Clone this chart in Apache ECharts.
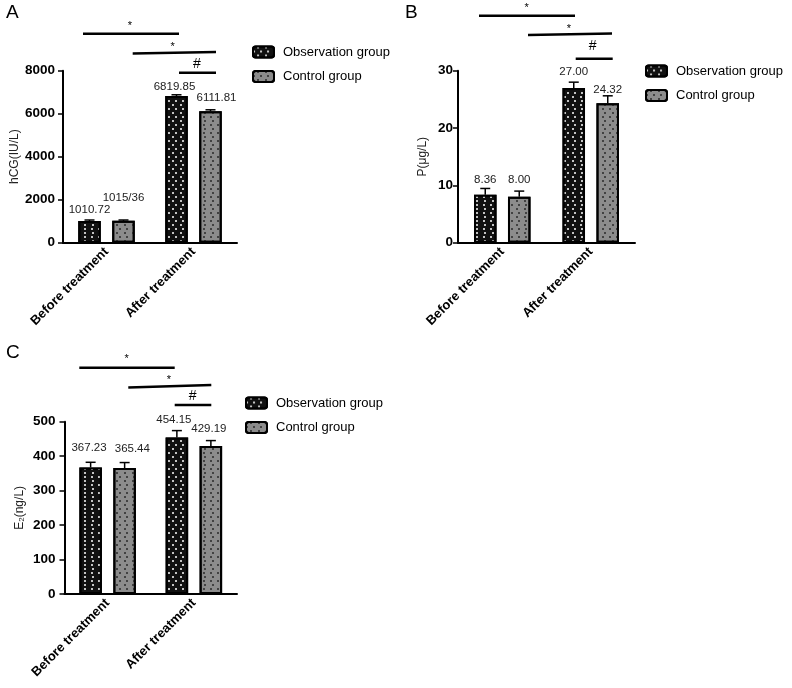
<!DOCTYPE html>
<html><head><meta charset="utf-8">
<script src="https://cdn.jsdelivr.net/npm/echarts@6/dist/echarts.min.js"></script>
<style>html,body{margin:0;padding:0;background:#fff}#c{width:792px;height:688px}</style>
</head><body><div id="c"></div>
<script>
// ---------- data ----------
const categories = ['Before treatment', 'After treatment'];
const groupNames = ['Observation group', 'Control group'];

const hcgObs = [1010.72, 6819.85];
const hcgCtrl = [1015.36, 6111.81];
const hcgObsErr = [45, 60];
const hcgCtrlErr = [40, 70];
const hcgObsText = ['1010.72', '6819.85'];
const hcgCtrlText = ['1015/36', '6111.81'];
const hcgAxis = [0, 8000, 2000];

const pObs = [8.36, 27.00];
const pCtrl = [8.00, 24.32];
const pObsErr = [1.1, 1.0];
const pCtrlErr = [1.0, 1.3];
const pObsText = ['8.36', '27.00'];
const pCtrlText = ['8.00', '24.32'];
const pAxis = [0, 30, 10];

const e2Obs = [367.23, 454.15];
const e2Ctrl = [365.44, 429.19];
const e2ObsErr = [15, 20];
const e2CtrlErr = [16, 16];
const e2ObsText = ['367.23', '454.15'];
const e2CtrlText = ['365.44', '429.19'];
const e2Axis = [0, 500, 100];

// ---------- layout ----------
const FONT = '"Liberation Sans", Arial, Helvetica, sans-serif';
const BAR_W = 22.5, BAR_GAP = '51%', BAR_OFF = 17, CAP = 5;

const panels = [
  { letter: 'A', lx: 6, ly: 3,
    grid: { left: 63, top: 70.7, width: 174, height: 172 },
    legend: { left: 252, top: 45.5 }, labelMargin: 8,
    name: 'hCG(IU/L)', nameGap: 38, axis: hcgAxis,
    obs: hcgObs, ctrl: hcgCtrl, obsErr: hcgObsErr, ctrlErr: hcgCtrlErr,
    obsText: hcgObsText, ctrlText: hcgCtrlText,
    obsNudge: [[0, 1], [-2, 3.5]], ctrlNudge: [[0, -10.7], [6, -1]],
    sig: [
      { x1: 83, y1: 33.7, x2: 179, y2: 33.7, t: '*', tx: 130, ty: 26 },
      { x1: 132.7, y1: 53.5, x2: 216, y2: 52, t: '*', tx: 172.7, ty: 46.5 },
      { x1: 179, y1: 72.7, x2: 216, y2: 72.7, t: '#', tx: 197, ty: 64 }
    ] },
  { letter: 'B', lx: 405, ly: 3,
    grid: { left: 458, top: 70.7, width: 177, height: 172 },
    legend: { left: 645, top: 64.5 }, labelMargin: 5,
    name: 'P(μg/L)', nameGap: 29.5, axis: pAxis,
    obs: pObs, ctrl: pCtrl, obsErr: pObsErr, ctrlErr: pCtrlErr,
    obsText: pObsText, ctrlText: pCtrlText,
    obsNudge: [[0, 2.7], [0, 0.7]], ctrlNudge: [[0, 0], [0, 4.6]],
    sig: [
      { x1: 479, y1: 15.7, x2: 575, y2: 15.7, t: '*', tx: 526.7, ty: 8 },
      { x1: 528, y1: 35, x2: 612, y2: 33.5, t: '*', tx: 569, ty: 28.5 },
      { x1: 575.7, y1: 58.7, x2: 612.7, y2: 58.7, t: '#', tx: 592.7, ty: 46.5 }
    ] },
  { letter: 'C', lx: 6, ly: 343,
    grid: { left: 64.5, top: 421.7, width: 172.5, height: 172.3 },
    legend: { left: 245, top: 396.5 }, labelMargin: 9,
    name: '{n|E}{s|2}{n|(ng/L)}', nameGap: 39, axis: e2Axis,
    obs: e2Obs, ctrl: e2Ctrl, obsErr: e2ObsErr, ctrlErr: e2CtrlErr,
    obsText: e2ObsText, ctrlText: e2CtrlText,
    obsNudge: [[-1.6, -3], [-3, 0]], ctrlNudge: [[7.7, -2.4], [-2, -1]],
    sig: [
      { x1: 79.3, y1: 367.7, x2: 174.7, y2: 367.7, t: '*', tx: 126.7, ty: 359 },
      { x1: 128.3, y1: 387.5, x2: 211.3, y2: 385, t: '*', tx: 169, ty: 380 },
      { x1: 174.7, y1: 405, x2: 211.3, y2: 405, t: '#', tx: 192.7, ty: 396.5 }
    ] }
];

const obsStyle = {
  color: '#111', borderColor: '#000', borderWidth: 2,
  decal: { symbol: 'circle', symbolSize: 1, color: '#ffffff',
    dashArrayX: [[2, 5], [0, 3.5, 2, 1.5]], dashArrayY: [2, 1.5], rotation: 0 }
};
const ctrlStyle = {
  color: '#8c8c8c', borderColor: '#000', borderWidth: 2,
  decal: { symbol: 'circle', symbolSize: 1, color: '#2a2a2a',
    dashArrayX: [[2, 5], [0, 3.5, 2, 1.5]], dashArrayY: [2, 1.5], rotation: 0 }
};

function errSeries(gi, values, errs, texts, side, nudges) {
  return {
    type: 'custom', xAxisIndex: gi, yAxisIndex: gi, z: 5, silent: true,
    data: values.map((v, i) => [i, v, errs[i]]),
    renderItem(params, api) {
      const i = api.value(0), v = api.value(1), e = api.value(2);
      const base = api.coord([i, v]);
      const top = api.coord([i, v + e]);
      const x = base[0] + side * BAR_OFF;
      const n = nudges[params.dataIndex];
      return { type: 'group', children: [
        { type: 'line', shape: { x1: x, y1: base[1], x2: x, y2: top[1] }, style: { stroke: '#000', lineWidth: 1.5 } },
        { type: 'line', shape: { x1: x - CAP, y1: top[1], x2: x + CAP, y2: top[1] }, style: { stroke: '#000', lineWidth: 1.5 } },
        { type: 'text', x: x + n[0], y: top[1] - 11 + n[1],
          style: { text: texts[params.dataIndex], align: 'center', verticalAlign: 'middle',
            fontSize: 11.5, fontFamily: FONT, fill: '#222' } }
      ] };
    }
  };
}

const grid = [], xAxis = [], yAxis = [], series = [], legend = [], graphic = [];
panels.forEach((p, gi) => {
  grid.push(Object.assign({ containLabel: false }, p.grid));
  xAxis.push({
    type: 'category', gridIndex: gi, data: categories,
    axisLine: { lineStyle: { color: '#000', width: 2 } },
    axisTick: { alignWithLabel: true, length: 5, lineStyle: { color: '#000', width: 1.5 } },
    axisLabel: { rotate: 45, margin: 7, color: '#000', fontWeight: 'bold', fontSize: 13, fontFamily: FONT, interval: 0 },
    splitLine: { show: false }
  });
  yAxis.push({
    type: 'value', gridIndex: gi, min: p.axis[0], max: p.axis[1], interval: p.axis[2],
    name: p.name, nameLocation: 'middle', nameGap: p.nameGap,
    nameTextStyle: { color: '#222', fontSize: 12, fontFamily: FONT,
      rich: { n: { fontSize: 12, fontFamily: FONT, color: '#222' },
              s: { fontSize: 8, fontFamily: FONT, color: '#222', verticalAlign: 'bottom', padding: [0, 0, 0, 0] } } },
    axisLine: { show: true, lineStyle: { color: '#000', width: 2 } },
    axisTick: { show: true, length: 5, lineStyle: { color: '#000', width: 1.5 } },
    axisLabel: { color: '#000', fontWeight: 'bold', fontSize: 13.5, fontFamily: FONT, margin: p.labelMargin,
      formatter: v => String(v) },
    splitLine: { show: false }
  });
  series.push({ name: groupNames[0], type: 'bar', xAxisIndex: gi, yAxisIndex: gi, data: p.obs,
    barWidth: BAR_W, barGap: BAR_GAP, itemStyle: obsStyle, silent: true });
  series.push({ name: groupNames[1], type: 'bar', xAxisIndex: gi, yAxisIndex: gi, data: p.ctrl,
    barWidth: BAR_W, barGap: BAR_GAP, itemStyle: ctrlStyle, silent: true });
  series.push(errSeries(gi, p.obs, p.obsErr, p.obsText, -1, p.obsNudge));
  series.push(errSeries(gi, p.ctrl, p.ctrlErr, p.ctrlText, 1, p.ctrlNudge));
  legend.push({
    data: groupNames, orient: 'vertical', left: p.legend.left, top: p.legend.top, padding: 0,
    itemWidth: 21, itemHeight: 11, itemGap: 11.5, selectedMode: false,
    textStyle: { color: '#000', fontSize: 13, fontFamily: FONT, padding: [0, 0, 0, 4] }
  });
  graphic.push({ type: 'text', left: p.lx, top: p.ly,
    style: { text: p.letter, fontSize: 19, fontFamily: FONT, fill: '#000' } });
  p.sig.forEach(s => {
    graphic.push({ type: 'line', shape: { x1: s.x1, y1: s.y1, x2: s.x2, y2: s.y2 },
      style: { stroke: '#000', lineWidth: 2.5 } });
    graphic.push({ type: 'text', x: s.tx, y: s.ty,
      style: { text: s.t, align: 'center', verticalAlign: 'middle',
        fontSize: s.t === '#' ? 14 : 11, fontFamily: FONT, fill: '#000' } });
  });
});

const chart = echarts.init(document.getElementById('c'), null, { renderer: 'canvas' });
chart.setOption({
  animation: false, backgroundColor: '#fff',
  grid, xAxis, yAxis, series, legend, graphic
});
</script></body></html>
